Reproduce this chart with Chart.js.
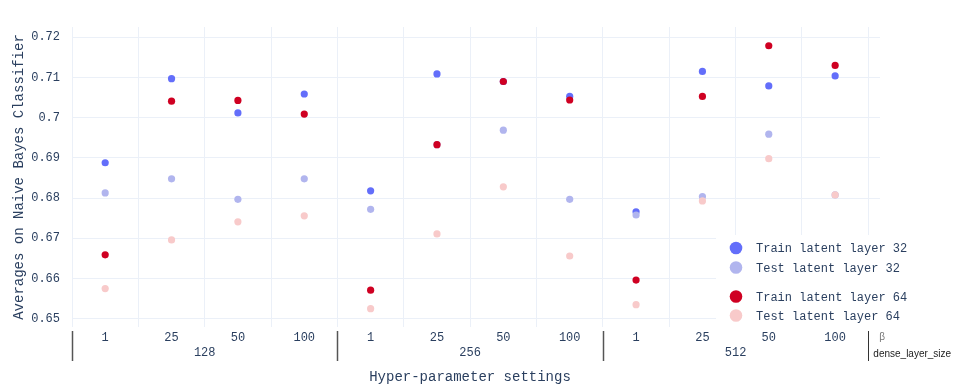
<!DOCTYPE html>
<html>
<head>
<meta charset="utf-8">
<script src="https://cdn.jsdelivr.net/npm/chart.js@4.4.1/dist/chart.umd.min.js"></script>
<style>
  html, body { margin: 0; padding: 0; background: #ffffff; }
  #wrap { width: 954px; height: 389px; }
</style>
</head>
<body>
<div id="wrap"><canvas id="c" width="954" height="389"></canvas></div>
<script>
// ---- data ----
const betaLabels = ['1', '25', '50', '100'];
const denseSizes = ['128', '256', '512'];
const trainLatent32 = [0.6888, 0.7097, 0.7012, 0.7059, 0.6818, 0.7109, 0.7090, 0.7053, 0.6766, 0.7115, 0.7079, 0.7104];
const testLatent32  = [0.6813, 0.6848, 0.6797, 0.6848, 0.6772, 0.6933, 0.6969, 0.6797, 0.6758, 0.6804, 0.6959, 0.6808];
const trainLatent64 = [0.6659, 0.7041, 0.7043, 0.7009, 0.6571, 0.6933, 0.7090, 0.7044, 0.6596, 0.7053, 0.7179, 0.7130];
const testLatent64  = [0.6575, 0.6696, 0.6741, 0.6756, 0.6525, 0.6711, 0.6828, 0.6656, 0.6535, 0.6793, 0.6898, 0.6808];
const yTicks = [0.65, 0.66, 0.67, 0.68, 0.69, 0.70, 0.71, 0.72];
const seriesNames = ['Train latent layer 32', 'Test latent layer 32', 'Train latent layer 64', 'Test latent layer 64'];
const seriesColors = ['#636efa', '#b1b5ee', '#cf0022', '#f8caca'];

// categories: dense size x beta
const categories = [];
denseSizes.forEach(d => betaLabels.forEach(b => categories.push({ dense: d, beta: b })));

const TEXT = '#2a3f5f';
const GRID = '#ebf0f8';
const MONO = '"Liberation Mono", "DejaVu Sans Mono", monospace';

function toPoints(arr) { return arr.map((v, i) => ({ x: i, y: v })); }

const seriesData = [trainLatent32, testLatent32, trainLatent64, testLatent64];
const datasets = seriesData.map((arr, k) => ({
  label: seriesNames[k],
  data: toPoints(arr),
  backgroundColor: seriesColors[k],
  borderColor: seriesColors[k],
  pointRadius: 3.6,
  pointBorderWidth: 0,
  showLine: false,
  order: 4 - k
}));

const overlay = {
  id: 'overlay',
  afterDraw(chart) {
    const ctx = chart.ctx;
    const xs = chart.scales.x;
    const area = chart.chartArea;
    ctx.save();
    // group labels and dividers
    ctx.font = '12px ' + MONO;
    ctx.fillStyle = TEXT;
    ctx.textAlign = 'center';
    ctx.textBaseline = 'middle';
    denseSizes.forEach((d, g) => {
      const x0 = xs.getPixelForValue(g * betaLabels.length - 0.5);
      const x1 = xs.getPixelForValue((g + 1) * betaLabels.length - 0.5);
      ctx.fillText(d, (x0 + x1) / 2, area.bottom + 26);
    });
    for (let g = 0; g <= denseSizes.length; g++) {
      const x = Math.round(xs.getPixelForValue(g * betaLabels.length - 0.5)) + 0.5;
      ctx.beginPath();
      ctx.strokeStyle = g === denseSizes.length ? '#333333' : '#555555';
      ctx.lineWidth = g === denseSizes.length ? 1 : 1.5;
      ctx.moveTo(x, area.bottom + 4);
      ctx.lineTo(x, area.bottom + 34);
      ctx.stroke();
    }
    // axis level names
    const lx = xs.getPixelForValue(denseSizes.length * betaLabels.length - 0.5) + 5;
    ctx.textAlign = 'left';
    ctx.font = '10px "Liberation Sans", Arial, sans-serif';
    ctx.fillStyle = '#777777';
    ctx.fillText('\u03b2', lx + 6, area.bottom + 10);
    ctx.fillStyle = '#222222';
    ctx.fillText('dense_layer_size', lx, area.bottom + 27);
    // x axis title
    ctx.font = '14px ' + MONO;
    ctx.fillStyle = TEXT;
    ctx.textAlign = 'center';
    ctx.fillText('Hyper-parameter settings', 470, area.bottom + 50);

    // legend
    ctx.fillStyle = '#ffffff';
    ctx.fillRect(716, 235, 954 - 716, area.bottom - 235 + 1);
    const rows = [248, 267.5, 296.5, 315.5];
    ctx.font = '12px ' + MONO;
    ctx.textAlign = 'left';
    rows.forEach((ry, k) => {
      ctx.beginPath();
      ctx.fillStyle = seriesColors[k];
      ctx.arc(736, ry, 6.3, 0, Math.PI * 2);
      ctx.fill();
      ctx.fillStyle = TEXT;
      ctx.fillText(seriesNames[k], 756, ry + 1);
    });
    ctx.restore();
  }
};

new Chart(document.getElementById('c'), {
  type: 'scatter',
  data: { datasets },
  options: {
    responsive: false,
    animation: false,
    events: [],
    layout: { padding: { left: 7, top: 27, right: 74, bottom: 0 } },
    plugins: { legend: { display: false }, tooltip: { enabled: false } },
    scales: {
      x: {
        type: 'linear',
        min: -0.5,
        max: 11.676,
        afterFit(s) { s.height = 62; },
        afterBuildTicks(s) {
          const t = [];
          for (let v = -0.5; v <= 11.5 + 1e-9; v += 0.5) t.push({ value: v });
          s.ticks = t;
        },
        border: { display: false },
        grid: {
          drawTicks: false,
          color: c => (c.tick && Math.abs(c.tick.value % 1) > 0.25) ? GRID : 'rgba(0,0,0,0)',
          lineWidth: 1
        },
        ticks: {
          autoSkip: false,
          maxRotation: 0,
          padding: 4,
          color: TEXT,
          font: { family: MONO, size: 12 },
          callback: v => {
            if (Math.abs(v - Math.round(v)) > 0.01) return '';
            const c = categories[Math.round(v)];
            return c ? c.beta : '';
          }
        }
      },
      y: {
        min: 0.64794,
        max: 0.72256,
        afterFit(s) { s.width = 65; },
        afterBuildTicks(s) { s.ticks = yTicks.map(v => ({ value: v })); },
        border: { display: false },
        grid: { drawTicks: false, color: GRID, lineWidth: 1 },
        ticks: {
          padding: 12,
          color: TEXT,
          font: { family: MONO, size: 12 },
          callback: v => String(Number(v.toFixed(2)))
        },
        title: {
          display: true,
          text: 'Averages on Naive Bayes Classifier',
          color: TEXT,
          font: { family: MONO, size: 14 },
          padding: { top: 4, bottom: 4 }
        }
      }
    }
  },
  plugins: [overlay]
});
</script>
</body>
</html>
